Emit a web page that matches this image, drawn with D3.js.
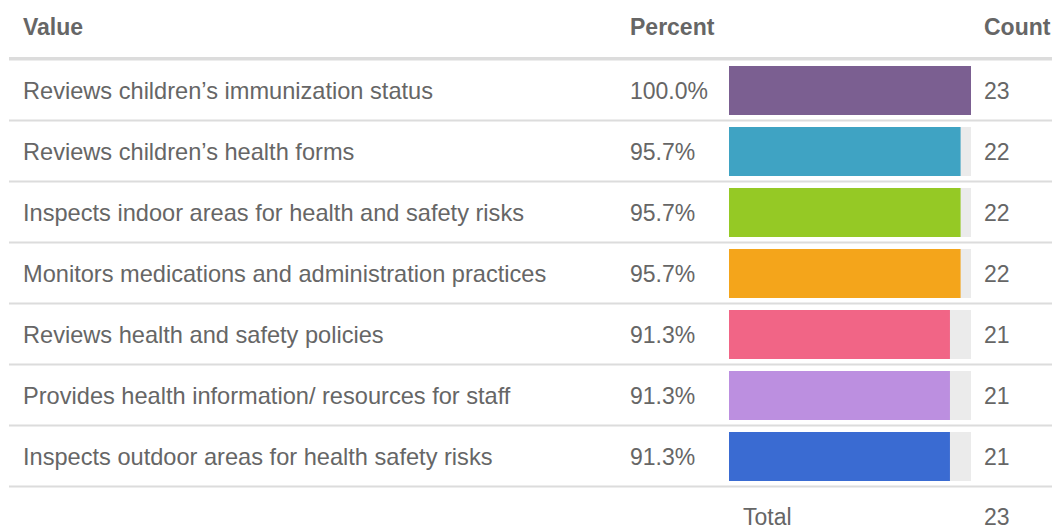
<!DOCTYPE html>
<html>
<head>
<meta charset="utf-8">
<script src="https://cdn.jsdelivr.net/npm/d3@7"></script>
<style>
    body { margin: 0; background: #fff; }
    svg text { font-family: Arial, "Liberation Sans", Helvetica, sans-serif; fill: #666; }
</style>
</head>
<body>
<script>
const labels = [
    "Reviews children\u2019s immunization status",
    "Reviews children\u2019s health forms",
    "Inspects indoor areas for health and safety risks",
    "Monitors medications and administration practices",
    "Reviews health and safety policies",
    "Provides health information/ resources for staff",
    "Inspects outdoor areas for health safety risks"
];
const percents = [100.0, 95.7, 95.7, 95.7, 91.3, 91.3, 91.3];
const counts = [23, 22, 22, 22, 21, 21, 21];
const colors = ["#7b5f91", "#3fa3c3", "#95c925", "#f4a51b", "#f16586", "#bc8fe0", "#3a6bd2"];
const total = 23;

const width = 1052;
const height = 527;
const headerBottom = 60;
const rowH = 61;
const labelX = 23;
const pctX = 630;
const barX0 = 729;
const barX1 = 971;
const countX = 984;
const fontSize = "23px";

const svg = d3.select("body")
    .append("svg")
    .attr("width", width)
    .attr("height", height);

const y = d3.scaleBand()
    .domain(d3.range(labels.length))
    .range([headerBottom, headerBottom + rowH * labels.length]);

const x = d3.scaleLinear()
    .domain([0, 100])
    .range([barX0, barX1]);

// header
const headers = [["Value", labelX], ["Percent", pctX], ["Count", countX]];
svg.selectAll(".hdr")
    .data(headers)
    .enter()
    .append("text")
    .attr("class", "hdr")
    .attr("x", d => d[1])
    .attr("y", 35)
    .style("font-size", fontSize)
    .style("font-weight", "bold")
    .text(d => d[0]);

svg.append("rect")
    .attr("x", 9)
    .attr("y", 57)
    .attr("width", width - 9)
    .attr("height", 3.5)
    .attr("fill", "#dcdcdc");

const rows = svg.selectAll(".row")
    .data(labels)
    .enter()
    .append("g")
    .attr("class", "row")
    .attr("transform", (d, i) => `translate(0, ${y(i)})`);

rows.append("rect")
    .attr("x", 9)
    .attr("y", rowH - 1.5)
    .attr("width", width - 9)
    .attr("height", 2)
    .attr("fill", "#dcdcdc");

rows.append("text")
    .attr("x", labelX)
    .attr("y", rowH / 2 + 8)
    .style("font-size", "23.6px")
    .text(d => d);

rows.append("text")
    .attr("x", pctX)
    .attr("y", rowH / 2 + 8)
    .style("font-size", fontSize)
    .text((d, i) => percents[i].toFixed(1) + "%");

rows.append("rect")
    .attr("x", x(0))
    .attr("y", 6)
    .attr("width", x(100) - x(0))
    .attr("height", 49)
    .attr("fill", "#ebebeb");

rows.append("rect")
    .attr("x", x(0))
    .attr("y", 6)
    .attr("width", (d, i) => x(percents[i]) - x(0))
    .attr("height", 49)
    .attr("fill", (d, i) => colors[i]);

rows.append("text")
    .attr("x", countX)
    .attr("y", rowH / 2 + 8)
    .style("font-size", fontSize)
    .text((d, i) => counts[i]);

const totalY = headerBottom + rowH * labels.length + 38;
svg.append("text")
    .attr("x", 743)
    .attr("y", totalY)
    .style("font-size", fontSize)
    .text("Total");

svg.append("text")
    .attr("x", countX)
    .attr("y", totalY)
    .style("font-size", fontSize)
    .text(total);
</script>
</body>
</html>
